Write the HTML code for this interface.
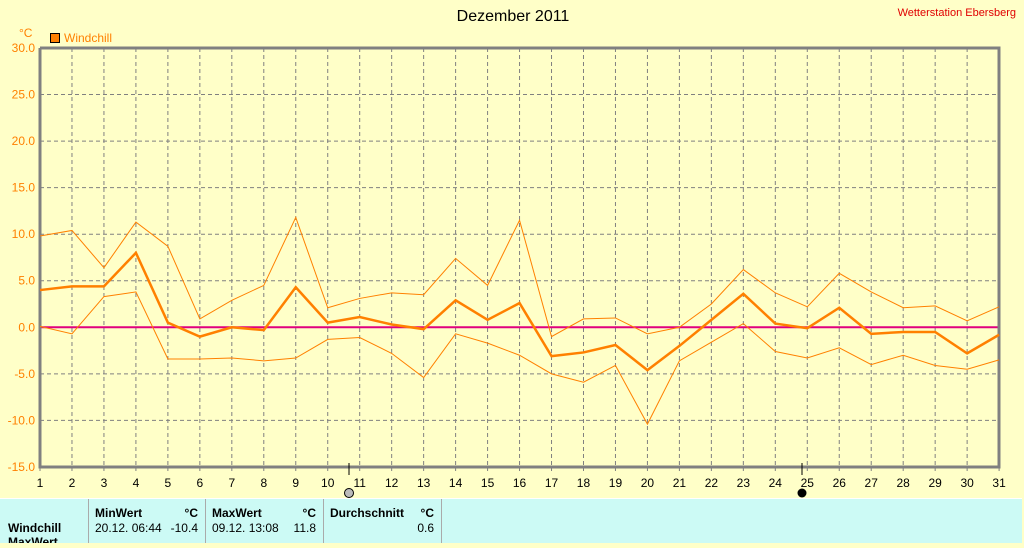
<!DOCTYPE html><html><head><style>body{margin:0;width:1024px;height:543px;overflow:hidden;background:#ffffc8;font-family:"Liberation Sans",sans-serif}</style></head><body>
<svg id="s" width="1024" height="543" xmlns="http://www.w3.org/2000/svg" font-family="Liberation Sans, sans-serif">
<rect width="1024" height="543" fill="#ffffc8"/>
<text x="513" y="21" font-size="16" text-anchor="middle" fill="#000">Dezember 2011</text>
<text x="1016" y="16" font-size="11" text-anchor="end" fill="#e00000">Wetterstation Ebersberg</text>
<text x="19" y="37" font-size="12" fill="#ff8000">°C</text>
<rect x="50.5" y="33.5" width="9" height="9" fill="#ff8000" stroke="#000"/>
<text x="64" y="42" font-size="12" fill="#ff8000">Windchill</text>
<g id="g"></g>
<rect x="0" y="498" width="1022" height="45" fill="#ccfaf5"/>
<g stroke="#aaa" stroke-width="1"><line x1="88.5" y1="498" x2="88.5" y2="543"/><line x1="205.5" y1="498" x2="205.5" y2="543"/><line x1="323.5" y1="498" x2="323.5" y2="543"/><line x1="441.5" y1="498" x2="441.5" y2="543"/><line x1="0" y1="498.5" x2="1022" y2="498.5" stroke="#fff"/></g>
<g font-size="12" fill="#000">
<text x="8" y="532" font-weight="bold">Windchill</text>
<text x="8" y="546" font-weight="bold">MaxWert</text>
<text x="95" y="517" font-weight="bold">MinWert</text><text x="198" y="517" text-anchor="end" font-weight="bold">°C</text>
<text x="95" y="532">20.12.  06:44</text><text x="198" y="532" text-anchor="end">-10.4</text>
<text x="212" y="517" font-weight="bold">MaxWert</text><text x="316" y="517" text-anchor="end" font-weight="bold">°C</text>
<text x="212" y="532">09.12.  13:08</text><text x="316" y="532" text-anchor="end">11.8</text>
<text x="330" y="517" font-weight="bold">Durchschnitt</text><text x="434" y="517" text-anchor="end" font-weight="bold">°C</text>
<text x="434" y="532" text-anchor="end">0.6</text>
</g>
<line x1="349" y1="463" x2="349" y2="475" stroke="#000"/><circle cx="349" cy="493" r="4.5" fill="#bbb" stroke="#000"/>
<line x1="802" y1="463" x2="802" y2="475" stroke="#000"/><circle cx="802" cy="493" r="4.5" fill="#000"/>
</svg>
<script>
var g=document.getElementById('g'),h='';
function X(d){return 40+(d-1)*31.97}function Y(v){return 327.3-v*9.311}
for(var v=-15;v<=30;v+=5){var y=Y(v);h+='<text x="35" y="'+(y+4)+'" font-size="12" fill="#ff8000" text-anchor="end">'+v.toFixed(1)+'</text>';if(v>-15&&v<30)h+='<line x1="40" x2="999" y1="'+y+'" y2="'+y+'" stroke="#808080" stroke-dasharray="4,3"/>';}
for(var d=1;d<=31;d++){var x=X(d);if(d>1&&d<31)h+='<line x1="'+x+'" x2="'+x+'" y1="48" y2="467" stroke="#808080" stroke-dasharray="4,3"/>';h+='<line x1="'+x+'" x2="'+x+'" y1="467" y2="471" stroke="#808080"/><text x="'+x+'" y="487" font-size="12" text-anchor="middle">'+d+'</text>';}
h+='<line x1="40" x2="999" y1="'+Y(0)+'" y2="'+Y(0)+'" stroke="#e0007f" stroke-width="2"/>';
h+='<polyline points="40,48 999,48 999,467 40,467 40,48" fill="none" stroke="#808080" stroke-width="3"/>';
var avg=[4.0,4.4,4.4,8.0,0.5,-1.0,0.0,-0.3,4.3,0.5,1.1,0.3,-0.2,2.9,0.8,2.6,-3.1,-2.7,-1.9,-4.6,-2.0,0.8,3.6,0.4,-0.1,2.1,-0.7,-0.5,-0.5,-2.8,-0.8];
var mx=[9.8,10.4,6.4,11.3,8.7,0.9,2.9,4.5,11.8,2.1,3.1,3.7,3.5,7.4,4.5,11.5,-1.0,0.9,1.0,-0.7,0.0,2.5,6.2,3.7,2.2,5.8,3.8,2.1,2.3,0.7,2.2];
var mn=[0.1,-0.7,3.3,3.8,-3.4,-3.4,-3.3,-3.6,-3.3,-1.3,-1.1,-2.8,-5.4,-0.7,-1.7,-3.0,-5.0,-5.9,-4.1,-10.4,-3.6,-1.6,0.4,-2.6,-3.3,-2.2,-4.0,-3.0,-4.1,-4.5,-3.5];
function pl(a,w){return '<polyline fill="none" stroke="#ff8000" stroke-width="'+w+'" points="'+a.map(function(v,i){return X(i+1)+','+Y(v)}).join(' ')+'"/>';}
h+=pl(mx,1)+pl(mn,1)+pl(avg,2.5);
g.innerHTML=h;
</script></body></html>
